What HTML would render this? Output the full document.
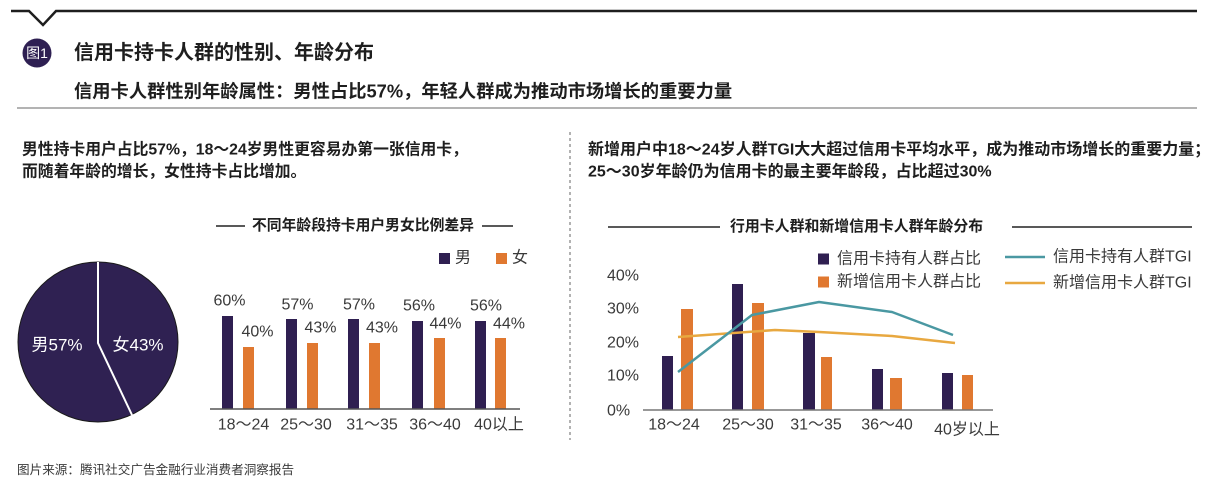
<!DOCTYPE html>
<html>
<head>
<meta charset="utf-8">
<style>
  html,body{margin:0;padding:0;background:#fff;}
  body{width:1209px;height:488px;overflow:hidden;}
  svg{display:block;}
  .b{font-family:"Liberation Sans","Noto Sans CJK SC",sans-serif;font-weight:bold;fill:#1e1e1e;}
  .n{font-family:"Liberation Sans","Noto Sans CJK SC",sans-serif;font-weight:normal;fill:#3a3a3a;}
</style>
</head>
<body>
<svg width="1209" height="488" viewBox="0 0 1209 488" xmlns="http://www.w3.org/2000/svg">
  <!-- header -->
  <polyline points="11,11 29,11 43,25 56,11 1197,11" fill="none" stroke="#1e1e1e" stroke-width="2.5"/>
  <circle cx="37" cy="53" r="14.5" fill="#2e1f52"/>
  <text x="37" y="53" dominant-baseline="central" text-anchor="middle" font-family="Liberation Sans, Noto Sans CJK SC, sans-serif" font-size="14" fill="#fff">图1</text>
  <text class="b" x="74" y="53" dominant-baseline="central" font-size="20">信用卡持卡人群的性别、年龄分布</text>
  <text class="b" x="74" y="91" dominant-baseline="central" font-size="18.3">信用卡人群性别年龄属性：男性占比57%，年轻人群成为推动市场增长的重要力量</text>
  <line x1="17" y1="108" x2="1197" y2="108" stroke="#9a9a9a" stroke-width="1.5"/>

  <!-- paragraphs -->
  <text class="b" x="22" y="150" dominant-baseline="central" font-size="15.8">男性持卡用户占比57%，18～24岁男性更容易办第一张信用卡，</text>
  <text class="b" x="22" y="172" dominant-baseline="central" font-size="15.8">而随着年龄的增长，女性持卡占比增加。</text>
  <text class="b" x="588" y="150" dominant-baseline="central" font-size="16">新增用户中18～24岁人群TGI大大超过信用卡平均水平，成为推动市场增长的重要力量；</text>
  <text class="b" x="588" y="172" dominant-baseline="central" font-size="16">25～30岁年龄仍为信用卡的最主要年龄段，占比超过30%</text>

  <line x1="570" y1="132" x2="570" y2="440" stroke="#666" stroke-width="1" stroke-dasharray="3,3"/>

  <!-- left chart title -->
  <line x1="216" y1="226" x2="245" y2="226" stroke="#222" stroke-width="1.5"/>
  <text class="b" x="252" y="226" dominant-baseline="central" font-size="14.8">不同年龄段持卡用户男女比例差异</text>
  <line x1="482" y1="226" x2="513" y2="226" stroke="#222" stroke-width="1.5"/>

  <!-- left legend -->
  <rect x="439" y="253" width="11" height="11" fill="#2f1f51"/>
  <text class="n" x="455" y="258" dominant-baseline="central" font-size="16">男</text>
  <rect x="496" y="253" width="11" height="11" fill="#e07830"/>
  <text class="n" x="512" y="258" dominant-baseline="central" font-size="16">女</text>

  <!-- pie -->
  <circle cx="98" cy="342" r="80" fill="#2f2152" stroke="#1a1a1a" stroke-width="1"/>
  <polyline points="98,262 98,343 132,415" fill="none" stroke="#fff" stroke-width="2"/>
  <text x="57" y="345" dominant-baseline="central" text-anchor="middle" font-family="Liberation Sans, Noto Sans CJK SC, sans-serif" font-size="17" fill="#fff">男57%</text>
  <text x="138" y="345" dominant-baseline="central" text-anchor="middle" font-family="Liberation Sans, Noto Sans CJK SC, sans-serif" font-size="17" fill="#fff">女43%</text>

  <!-- left bars -->
  <g fill="#2f1f51">
    <rect x="222" y="316" width="11" height="93"/>
    <rect x="286" y="319" width="11" height="90"/>
    <rect x="348" y="319" width="11" height="90"/>
    <rect x="412" y="321" width="11" height="88"/>
    <rect x="475" y="321" width="11" height="88"/>
  </g>
  <g fill="#e07830">
    <rect x="243" y="347" width="11" height="62"/>
    <rect x="307" y="343" width="11" height="66"/>
    <rect x="369" y="343" width="11" height="66"/>
    <rect x="434" y="338" width="11" height="71"/>
    <rect x="495" y="338" width="11" height="71"/>
  </g>
  <line x1="210" y1="409" x2="520" y2="409" stroke="#555" stroke-width="1.5"/>
  <g class="n" font-size="16" text-anchor="middle" dominant-baseline="central">
    <text x="229.5" y="301" dominant-baseline="central">60%</text>
    <text x="297.5" y="305" dominant-baseline="central">57%</text>
    <text x="359" y="305" dominant-baseline="central">57%</text>
    <text x="419" y="306" dominant-baseline="central">56%</text>
    <text x="486" y="306" dominant-baseline="central">56%</text>
    <text x="257.5" y="332" dominant-baseline="central">40%</text>
    <text x="320.5" y="328" dominant-baseline="central">43%</text>
    <text x="382" y="328" dominant-baseline="central">43%</text>
    <text x="445.5" y="324" dominant-baseline="central">44%</text>
    <text x="509" y="324" dominant-baseline="central">44%</text>
    <text x="243.5" y="425" dominant-baseline="central">18～24</text>
    <text x="306" y="425" dominant-baseline="central">25～30</text>
    <text x="372" y="425" dominant-baseline="central">31～35</text>
    <text x="435" y="425" dominant-baseline="central">36～40</text>
    <text x="499" y="425" dominant-baseline="central">40以上</text>
  </g>

  <!-- right chart title -->
  <line x1="608" y1="227" x2="720" y2="227" stroke="#222" stroke-width="1.5"/>
  <text class="b" x="730" y="227" dominant-baseline="central" font-size="14.9">行用卡人群和新增信用卡人群年龄分布</text>
  <line x1="1012" y1="227" x2="1192" y2="227" stroke="#222" stroke-width="1.5"/>

  <!-- right legend -->
  <rect x="818" y="253.5" width="11" height="11" fill="#2f1f51"/>
  <text class="n" x="837" y="259" dominant-baseline="central" font-size="16">信用卡持有人群占比</text>
  <rect x="818" y="276.5" width="11" height="11" fill="#e07830"/>
  <text class="n" x="837" y="282" dominant-baseline="central" font-size="16">新增信用卡人群占比</text>
  <line x1="1005" y1="257" x2="1045" y2="257" stroke="#4a98a2" stroke-width="2.5"/>
  <text class="n" x="1053" y="257" dominant-baseline="central" font-size="16">信用卡持有人群TGI</text>
  <line x1="1005" y1="283" x2="1045" y2="283" stroke="#e8a840" stroke-width="2.5"/>
  <text class="n" x="1053" y="283" dominant-baseline="central" font-size="16">新增信用卡人群TGI</text>

  <!-- right y axis labels -->
  <g class="n" font-size="16">
    <text x="607" y="276" dominant-baseline="central">40%</text>
    <text x="607" y="309" dominant-baseline="central">30%</text>
    <text x="607" y="343" dominant-baseline="central">20%</text>
    <text x="607" y="376" dominant-baseline="central">10%</text>
    <text x="607" y="411" dominant-baseline="central">0%</text>
  </g>

  <!-- right bars -->
  <g fill="#2f1f51">
    <rect x="662" y="356" width="11" height="54"/>
    <rect x="732" y="284" width="11" height="126"/>
    <rect x="803" y="333" width="12" height="77"/>
    <rect x="872" y="369" width="11" height="41"/>
    <rect x="942" y="373" width="11" height="37"/>
  </g>
  <g fill="#e07830">
    <rect x="681" y="309" width="12" height="101"/>
    <rect x="752" y="303" width="12" height="107"/>
    <rect x="821" y="357" width="11" height="53"/>
    <rect x="890" y="378" width="12" height="32"/>
    <rect x="962" y="375" width="11" height="35"/>
  </g>
  <line x1="643" y1="410" x2="993" y2="410" stroke="#777" stroke-width="1.5"/>

  <!-- lines -->
  <polyline points="678,337 775,330 819,332 892,336 955,343" fill="none" stroke="#e8a840" stroke-width="2.5" stroke-linejoin="round"/>
  <polyline points="678,372 752,315 819,302 892,312 953,335" fill="none" stroke="#4a98a2" stroke-width="2.5" stroke-linejoin="round"/>

  <!-- right categories -->
  <g class="n" font-size="16" text-anchor="middle">
    <text x="674" y="425" dominant-baseline="central">18～24</text>
    <text x="748" y="425" dominant-baseline="central">25～30</text>
    <text x="816" y="425" dominant-baseline="central">31～35</text>
    <text x="887" y="425" dominant-baseline="central">36～40</text>
    <text x="967" y="430" dominant-baseline="central">40岁以上</text>
  </g>

  <!-- footer -->
  <text class="n" x="17" y="470" dominant-baseline="central" font-size="12.6" fill="#2a2a2a">图片来源：腾讯社交广告金融行业消费者洞察报告</text>
</svg>
</body>
</html>
